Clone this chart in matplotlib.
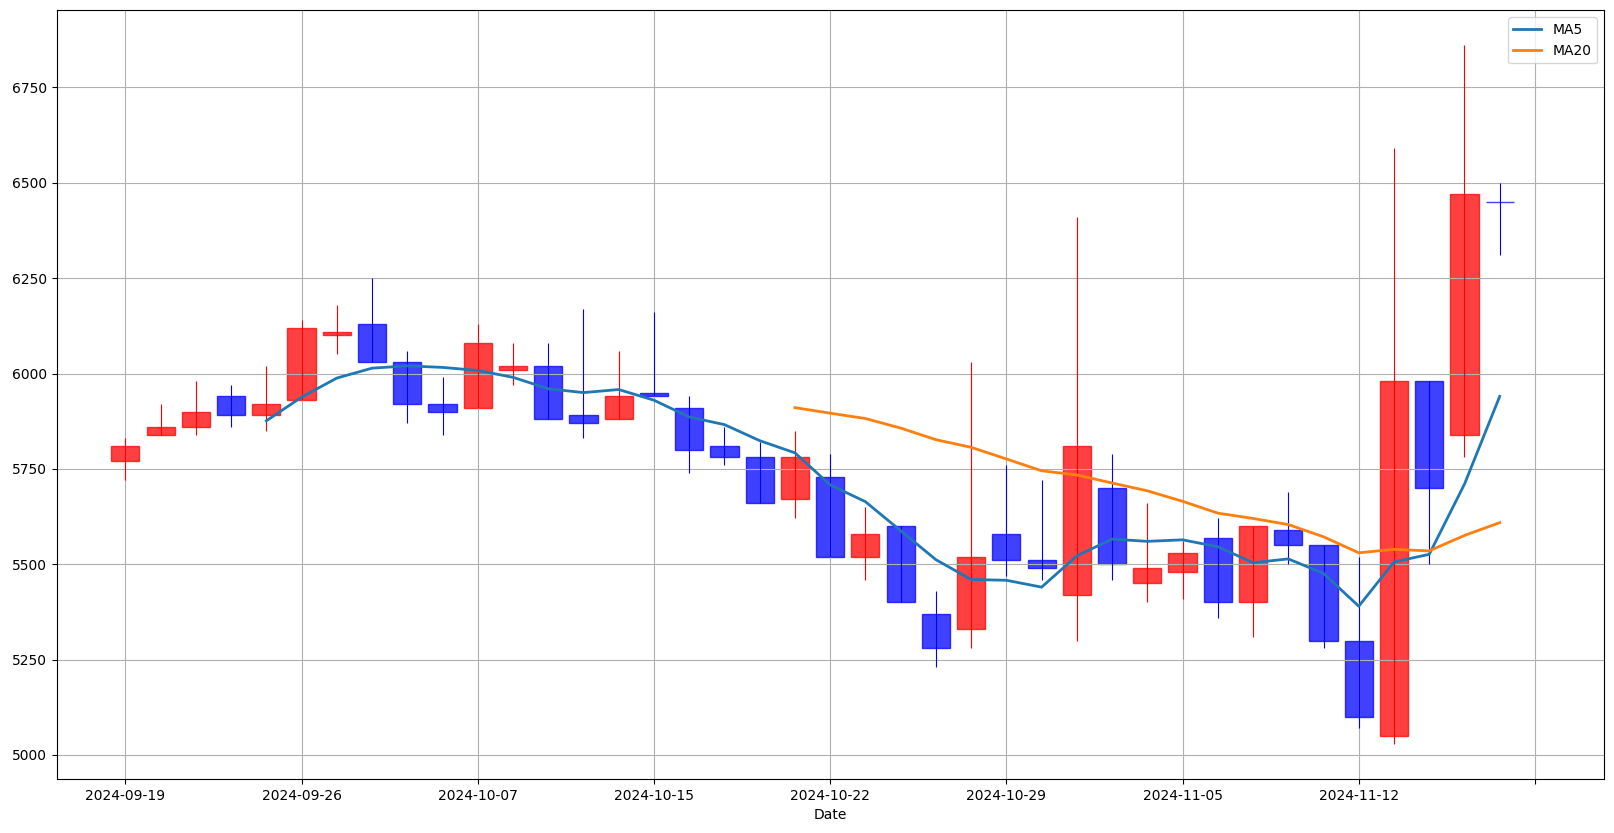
import numpy as np
import pandas as pd
import matplotlib
matplotlib.use('Agg')
import matplotlib.pyplot as plt

# trading days (KRX calendar)
dates = ['2024-09-19', '2024-09-20', '2024-09-23', '2024-09-24', '2024-09-25',
         '2024-09-26', '2024-09-27', '2024-09-30', '2024-10-02', '2024-10-04',
         '2024-10-07', '2024-10-08', '2024-10-10', '2024-10-11', '2024-10-14',
         '2024-10-15', '2024-10-16', '2024-10-17', '2024-10-18', '2024-10-21',
         '2024-10-22', '2024-10-23', '2024-10-24', '2024-10-25', '2024-10-28',
         '2024-10-29', '2024-10-30', '2024-10-31', '2024-11-01', '2024-11-04',
         '2024-11-05', '2024-11-06', '2024-11-07', '2024-11-08', '2024-11-11',
         '2024-11-12', '2024-11-13', '2024-11-14', '2024-11-15', '2024-11-18']

opens = [5770, 5840, 5860, 5940, 5890, 5930, 6100, 6130, 6030, 5920,
         5910, 6010, 6020, 5890, 5880, 5950, 5910, 5810, 5780, 5670,
         5730, 5520, 5600, 5370, 5330, 5580, 5510, 5420, 5700, 5450,
         5480, 5570, 5400, 5590, 5550, 5300, 5050, 5980, 5840, 6450]
highs = [5830, 5920, 5980, 5970, 6020, 6140, 6180, 6250, 6060, 5990,
         6130, 6080, 6080, 6170, 6060, 6160, 5940, 5860, 5820, 5850,
         5790, 5650, 5600, 5430, 6030, 5760, 5720, 6410, 5790, 5660,
         5560, 5620, 5600, 5690, 5550, 5520, 6590, 5980, 6860, 6500]
lows = [5720, 5840, 5840, 5860, 5850, 5930, 6050, 6030, 5870, 5840,
        5910, 5970, 5880, 5830, 5880, 5940, 5740, 5760, 5660, 5620,
        5520, 5460, 5400, 5230, 5280, 5470, 5460, 5300, 5460, 5400,
        5410, 5360, 5310, 5500, 5280, 5070, 5030, 5500, 5780, 6310]
closes = [5810, 5860, 5900, 5890, 5920, 6120, 6110, 6030, 5920, 5900,
          6080, 6020, 5880, 5870, 5940, 5940, 5800, 5780, 5660, 5780,
          5520, 5580, 5400, 5280, 5520, 5510, 5490, 5810, 5500, 5490,
          5530, 5400, 5600, 5550, 5300, 5100, 5980, 5700, 6470, 6450]

df = pd.DataFrame({'Open': opens, 'High': highs, 'Low': lows, 'Close': closes},
                  index=pd.to_datetime(dates))
df['MA5'] = df['Close'].rolling(5).mean()
df['MA20'] = df['Close'].rolling(20).mean()

x = np.arange(len(df))
up = df['Close'] > df['Open']
colors = np.where(up, 'red', 'blue')

fig, ax = plt.subplots(figsize=(16.14, 8.33), dpi=100)

# wicks
ax.vlines(x, df['Low'], df['High'], colors=colors, linewidth=0.8)
# bodies
bottom = np.minimum(df['Open'], df['Close'])
height = np.abs(df['Close'] - df['Open'])
ax.bar(x, height, width=0.8, bottom=bottom, color=colors, edgecolor=colors,
       alpha=0.75, linewidth=1)

ax.plot(x, df['MA5'], label='MA5', linewidth=2)
ax.plot(x, df['MA20'], label='MA20', linewidth=2)

ticks = list(range(0, 41, 5))
ax.set_xticks(ticks)
ax.set_xticklabels([dates[t] if t < len(dates) else '' for t in ticks])
ax.set_xlim(-1.95, 41.95)
ax.set_ylim(4937, 6952)
ax.set_xlabel('Date')
ax.grid(True)
ax.legend(loc='upper right')

fig.subplots_adjust(left=0.0351, right=0.9936, top=0.9876, bottom=0.0648)
fig.savefig('out.png')
